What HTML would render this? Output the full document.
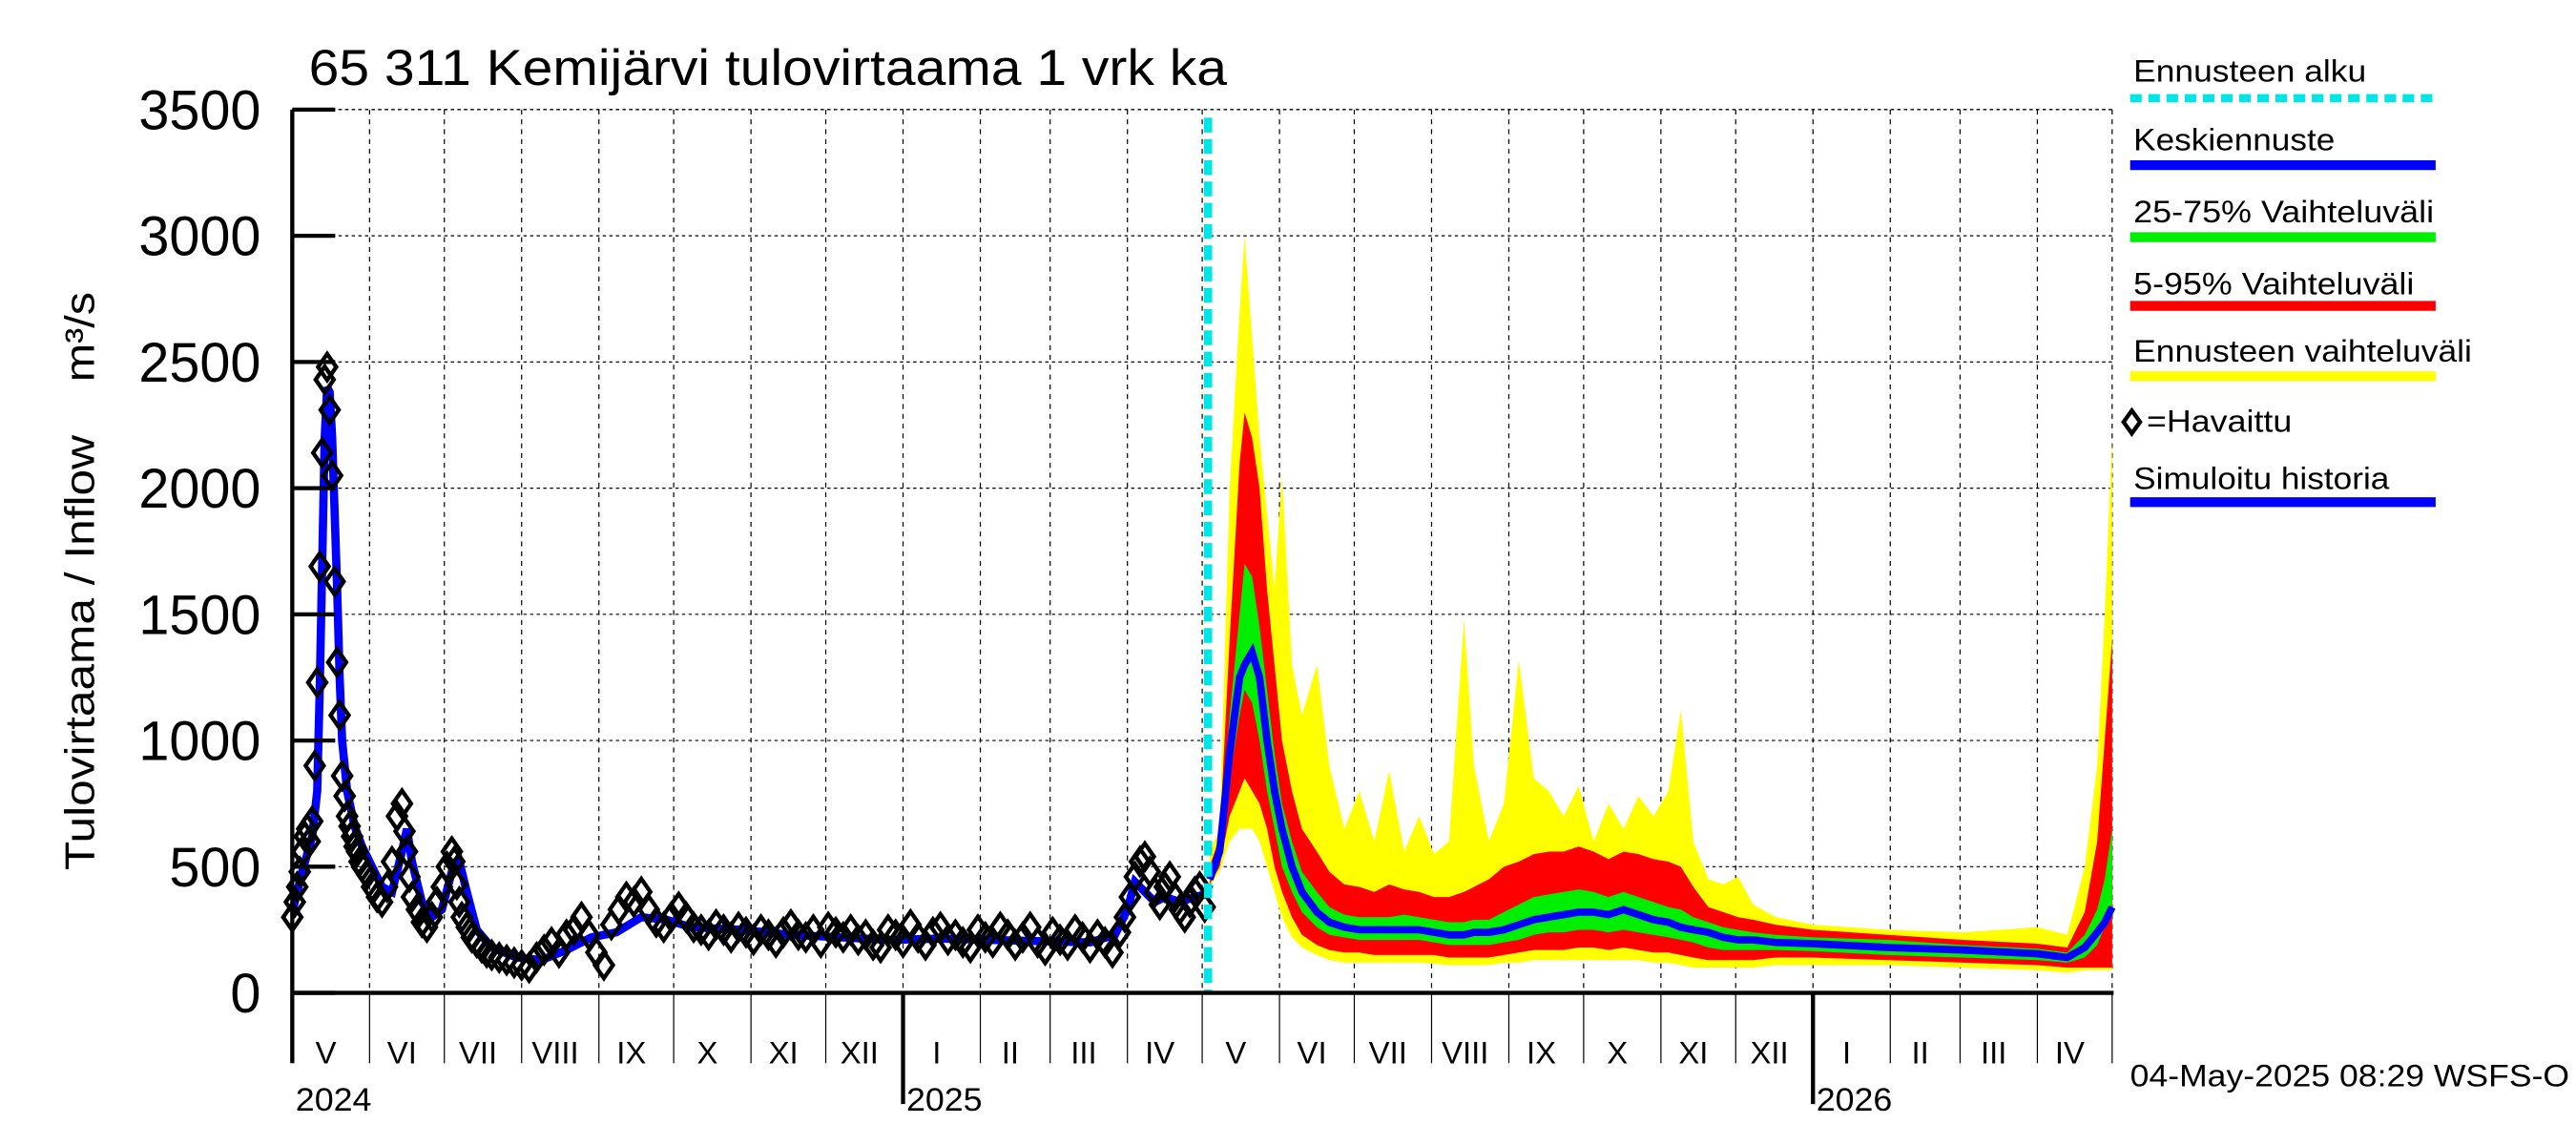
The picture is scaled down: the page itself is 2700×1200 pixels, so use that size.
<!DOCTYPE html>
<html><head><meta charset="utf-8"><style>
html,body{margin:0;padding:0;background:#fff;}
svg{display:block;font-family:"Liberation Sans",sans-serif;}
</style></head><body>
<svg id="chart" width="2700" height="1200" viewBox="0 0 1560 700" preserveAspectRatio="none" xmlns="http://www.w3.org/2000/svg">
<g id="grid"></g>
<g id="bands"></g>
<g id="series"></g>
<g id="axes"></g>
<text x="187" y="52" font-size="31" textLength="556" lengthAdjust="spacingAndGlyphs">65 311 Kemijärvi tulovirtaama 1 vrk ka</text>
<text transform="translate(57,399) rotate(-90)" text-anchor="middle" font-size="25" textLength="266" lengthAdjust="spacingAndGlyphs">Tulovirtaama / Inflow</text>
<text transform="translate(57,206) rotate(-90)" text-anchor="middle" font-size="25" textLength="55" lengthAdjust="spacingAndGlyphs">m³/s</text>
<text x="1290" y="664" font-size="19" textLength="266" lengthAdjust="spacingAndGlyphs">04-May-2025 08:29 WSFS-O</text>
<g id="legend" font-size="19">
<text x="1292" y="50" textLength="141" lengthAdjust="spacingAndGlyphs">Ennusteen alku</text>
<line x1="1290" y1="60" x2="1475" y2="60" stroke="#00e5e5" stroke-width="5" stroke-dasharray="7,4"/>
<text x="1292" y="92" textLength="122" lengthAdjust="spacingAndGlyphs">Keskiennuste</text>
<line x1="1290" y1="101" x2="1475" y2="101" stroke="#0000ff" stroke-width="6"/>
<text x="1292" y="136" textLength="182" lengthAdjust="spacingAndGlyphs">25-75% Vaihteluväli</text>
<line x1="1290" y1="145" x2="1475" y2="145" stroke="#00ee00" stroke-width="6"/>
<text x="1292" y="180" textLength="170" lengthAdjust="spacingAndGlyphs">5-95% Vaihteluväli</text>
<line x1="1290" y1="187" x2="1475" y2="187" stroke="#ff0000" stroke-width="6"/>
<text x="1292" y="221" textLength="205" lengthAdjust="spacingAndGlyphs">Ennusteen vaihteluväli</text>
<line x1="1290" y1="230" x2="1475" y2="230" stroke="#ffff00" stroke-width="6"/>
<path d="M1291,251 L1296,258 L1291,265 L1286,258 Z" fill="none" stroke="#000" stroke-width="2.5"/>
<text x="1300" y="264" textLength="88" lengthAdjust="spacingAndGlyphs">=Havaittu</text>
<text x="1292" y="299" textLength="155" lengthAdjust="spacingAndGlyphs">Simuloitu historia</text>
<line x1="1290" y1="307" x2="1475" y2="307" stroke="#0000ff" stroke-width="6"/>
</g>
</svg>
<script>
const yTicks=[0,500,1000,1500,2000,2500,3000,3500];
const monthNames=["V","VI","VII","VIII","IX","X","XI","XII","I","II","III","IV","V","VI","VII","VIII","IX","X","XI","XII","I","II","III","IV"];
const monthDays=[31,30,31,31,30,31,30,31,31,28,31,30,31,30,31,31,30,31,30,31,31,28,31,30];
const yearLabels=["2024","2025","2026"];
const forecastStartDay=368;
const obsDays=[0,1,2,3,4,5,6,7,8,9,10,11,12,13,14,15,16,17,18,19,20,21,22,23,24,25,26,27,28,30,32,34,36,38,40,42,44,45,46,47,48,50,52,54,56,58,60,62,64,65,66,67,68,70,72,74,76,78,80,83,86,89,92,95,98,101,104,107,110,113,116,119,122,125,128,131,134,137,140,143,146,149,152,155,158,161,164,167,170,173,176,179,182,185,188,191,194,197,200,203,206,209,212,215,218,221,224,227,230,233,236,239,242,245,248,251,254,257,260,263,266,269,272,275,278,281,284,287,290,293,296,299,302,305,308,311,314,317,320,323,326,329,332,334,336,338,340,342,344,346,348,350,352,354,356,358,360,362,364,366];
const obsVals=[300,360,420,480,560,620,650,600,680,900,1230,1690,2140,2430,2480,2310,2050,1630,1310,1100,860,780,700,660,620,580,560,520,500,470,420,380,360,420,520,700,750,640,560,460,380,330,280,260,300,360,420,500,560,520,430,360,300,260,220,200,180,160,150,140,130,120,110,100,140,170,200,160,230,250,300,230,160,110,270,330,380,360,400,330,280,260,300,340,300,260,250,230,270,250,220,260,240,210,250,230,200,240,270,230,220,250,200,260,240,220,250,210,230,190,180,250,230,200,270,220,190,240,260,210,230,200,180,250,220,200,260,230,190,220,260,200,170,240,210,190,250,220,180,230,200,160,240,300,380,460,520,540,480,400,350,420,460,380,330,300,360,400,420,340];
const simDays=[0,4,8,10,11,12,13,14,15,16,17,18,19,20,22,25,28,32,36,40,44,46,48,52,56,60,64,67,70,74,80,90,100,110,120,130,140,150,160,180,200,220,240,260,280,300,320,330,335,338,342,346,350,356,362,366,368];
const simVals=[320,480,620,800,1200,1700,2200,2400,2380,2200,1900,1600,1250,1000,800,660,580,500,420,400,560,650,520,360,300,330,480,520,400,250,180,140,130,170,220,240,300,290,260,250,230,220,210,215,210,205,200,230,330,440,400,360,380,360,380,390,430];
const fDays=[368,372,376,380,382,385,388,391,394,397,401,405,411,416,422,428,434,440,446,452,458,464,470,474,480,486,492,498,504,510,516,522,528,534,540,546,552,557,562,568,574,580,586,595,610,640,670,700,712,719,724,727,730];
const fMin=[420,480,600,650,650,650,600,500,400,300,220,180,150,130,120,120,120,120,120,120,115,110,110,110,110,120,120,130,130,130,130,130,130,130,130,120,120,110,100,100,100,100,100,110,110,110,100,90,80,90,90,90,90];
const fP5=[430,500,700,800,850,800,750,650,500,400,300,230,190,170,160,160,150,150,150,150,150,140,140,140,140,150,160,170,170,170,180,180,170,180,170,160,160,150,140,130,130,130,130,140,140,130,120,110,100,100,100,100,100];
const fP25=[440,540,850,1100,1200,1150,1000,800,650,500,400,320,260,230,220,210,210,210,210,210,200,190,190,190,190,200,210,230,240,240,250,250,240,250,240,230,220,210,200,180,170,170,170,170,165,150,140,130,120,140,190,260,350];
const fMed=[450,560,950,1250,1300,1350,1250,1000,800,650,500,400,320,280,260,250,250,250,250,250,240,230,230,240,240,250,270,290,300,310,320,320,310,330,310,290,280,260,250,240,220,210,210,200,195,180,170,155,140,180,240,280,340];
const fP75=[470,590,1100,1500,1700,1650,1450,1200,950,750,600,480,400,340,310,300,300,300,310,300,290,280,280,290,290,320,350,380,390,400,410,400,380,400,380,360,340,330,300,280,260,250,240,230,220,210,190,175,160,230,330,450,650];
const fP95=[500,620,1400,2100,2300,2200,2000,1600,1300,1000,800,650,560,480,430,420,400,430,410,400,380,380,400,420,450,500,520,550,560,560,580,560,530,560,550,530,520,500,420,340,320,300,290,270,250,230,210,195,180,320,600,1000,1400];
const fMax=[560,650,2000,2700,3000,2600,2200,1900,1600,2050,1300,1100,1300,900,650,800,600,880,560,700,550,600,1480,900,600,750,1320,850,800,700,820,600,750,650,780,700,800,1120,600,450,430,460,350,300,270,250,240,260,230,500,900,1500,2200];

const X0=177,X1=1280,Y0=607,Y1=67,DAYS=730.6,YMAX=3500;
function xs(d){return X0+d*(X1-X0)/DAYS;}
function ys(v){return Y0-v*(Y0-Y1)/YMAX;}
const NS="http://www.w3.org/2000/svg";
function mk(tag,parent,attrs){const e=document.createElementNS(NS,tag);for(const k in attrs)e.setAttribute(k,attrs[k]);parent.appendChild(e);return e;}
const grid=document.getElementById('grid'),axes=document.getElementById('axes'),bands=document.getElementById('bands'),series=document.getElementById('series');

yTicks.forEach(v=>{
  if(v>0){const g=mk('line',grid,{x1:X0,x2:X1,y1:ys(v),y2:ys(v),stroke:'#000','stroke-width':0.7,'stroke-dasharray':'2,2'});
  
  }
  const t=mk('line',axes,{x1:X0,x2:X0+26,y1:ys(v),y2:ys(v),stroke:'#000','stroke-width':2.5});
  
  
  const s=String(v);
  const l=mk('text',axes,{x:158,y:ys(v)+12,'text-anchor':'end','font-size':34,textLength:s.length*18.5,lengthAdjust:'spacingAndGlyphs'});
  l.textContent=s;
  
  
});
let d=0;
monthNames.forEach((m,i)=>{
  const xa=xs(d),xb=xs(d+monthDays[i]);
  const isYear=(m==="I");
  if(i>0){
    const g=mk('line',grid,{x1:xa,x2:xa,y1:Y1,y2:Y0,stroke:'#000','stroke-width':0.7,'stroke-dasharray':'3,3'});
    
    
  }
  const t=mk('line',axes,{x1:xa,x2:xa,y1:Y0,y2:isYear?675:650,stroke:'#000','stroke-width':isYear?2.5:0.7});
  
  
  const l=mk('text',axes,{x:(xa+xb)/2-3,y:650,'text-anchor':'middle','font-size':19});
  l.textContent=m;
  
  
  d+=monthDays[i];
});
const xe=xs(d);
mk('line',grid,{x1:xe,x2:xe,y1:Y1,y2:Y0,stroke:'#000','stroke-width':0.7,'stroke-dasharray':'3,3'});
mk('line',axes,{x1:xe,x2:xe,y1:Y0,y2:650,stroke:'#000','stroke-width':0.7});
mk('line',grid,{x1:X0,x2:X1,y1:Y1,y2:Y1,stroke:'#000','stroke-width':0.7,'stroke-dasharray':'2,2'});
const yearX=[X0+2,xs(245)+2,xs(610)+2];
yearLabels.forEach((y,i)=>{
  const l=mk('text',axes,{x:yearX[i],y:679,'font-size':20,textLength:46,lengthAdjust:'spacingAndGlyphs'});
  l.textContent=y;
  
  
});
const ax=mk('line',axes,{x1:X0,x2:X0,y1:Y1,y2:650,stroke:'#000','stroke-width':2.5});


const bx=mk('line',axes,{x1:X0,x2:X1,y1:Y0,y2:Y0,stroke:'#000','stroke-width':2.5});



function band(lo,hi,color,name){
  let p='M'+fDays.map((dd,i)=>xs(dd)+','+ys(hi[i])).join(' L');
  for(let i=fDays.length-1;i>=0;i--)p+=' L'+xs(fDays[i])+','+ys(lo[i]);
  const e=mk('path',bands,{d:p+'Z',fill:color});
  
  
}
band(fMin,fMax,'#ffff00','band-range');
band(fP5,fP95,'#ff0000','band-5-95');
band(fP25,fP75,'#00ee00','band-25-75');
const med=mk('polyline',series,{points:fDays.map((dd,i)=>xs(dd)+','+ys(fMed[i])).join(' '),fill:'none',stroke:'#0000ff','stroke-width':4.5});


const sim=mk('polyline',series,{points:simDays.map((dd,i)=>xs(dd)+','+ys(simVals[i])).join(' '),fill:'none',stroke:'#0000ff','stroke-width':5});


obsDays.forEach((dd,i)=>{
  const x=xs(dd),y=ys(obsVals[i]);
  const e=mk('path',series,{d:`M${x},${y-8} L${x+5.5},${y} L${x},${y+8} L${x-5.5},${y} Z`,fill:'none',stroke:'#000','stroke-width':2.5});
  
  
});
const fs=mk('line',series,{x1:xs(forecastStartDay)-1,x2:xs(forecastStartDay)-1,y1:Y1+5,y2:Y0,stroke:'#00e5e5','stroke-width':5,'stroke-dasharray':'9,4'});


</script>
</body></html>
